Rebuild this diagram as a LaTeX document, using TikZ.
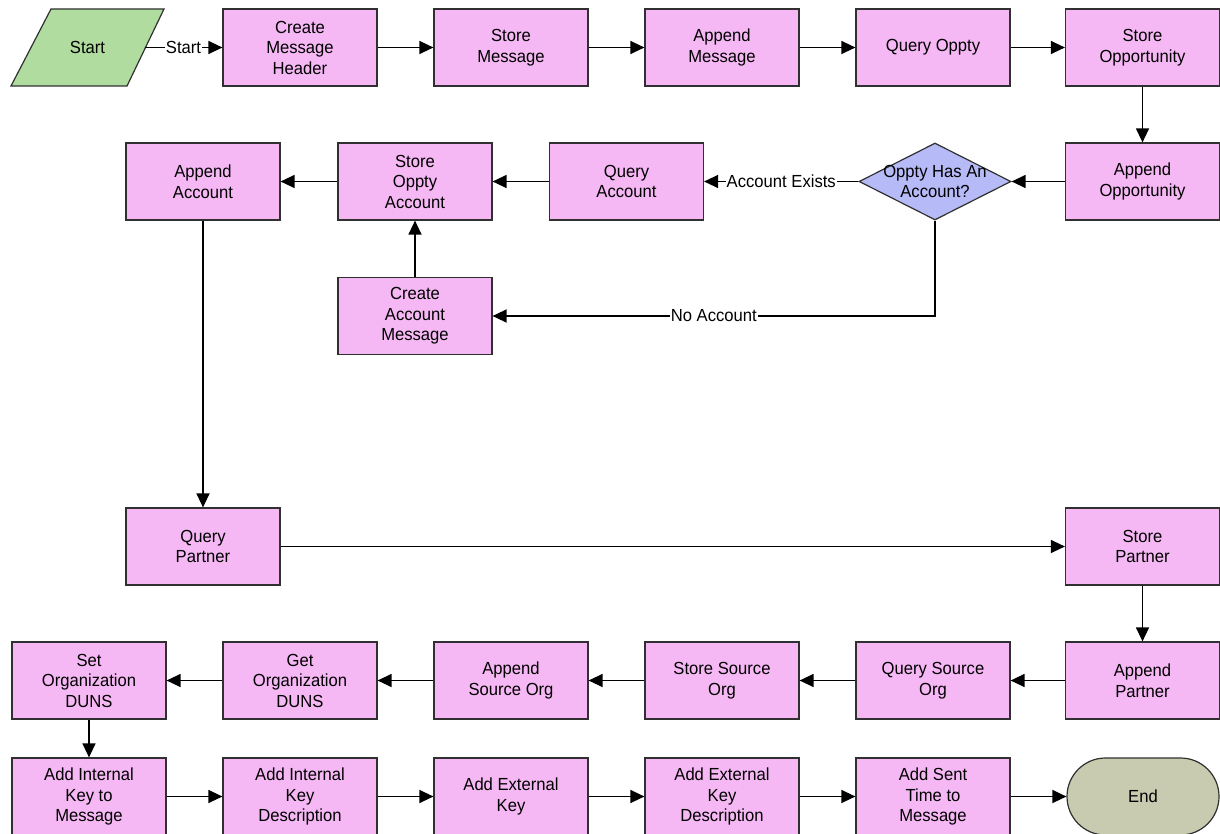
\documentclass[tikz,border=0pt]{standalone}
\usepackage{fontspec}
\setmainfont{Liberation Sans}[FakeStretch=0.95]
\usetikzlibrary{arrows.meta,shapes.geometric,shapes.misc}
\definecolor{boxfill}{HTML}{F6B8F4}
\definecolor{boxline}{HTML}{303030}
\definecolor{startfill}{HTML}{B0DCA0}
\definecolor{decfill}{HTML}{B6BAF6}
\definecolor{endfill}{HTML}{C9CBB0}
\begin{document}
\begin{tikzpicture}[x=1pt,y=-1pt,
  txt/.style={font=\fontsize{17.5pt}{20.5pt}\selectfont, align=center},
  box/.style={txt, draw=boxline, fill=boxfill, line width=1.2pt, minimum width=154pt, minimum height=77pt, inner sep=0pt},
  arr/.style={-{Triangle[length=14pt,width=13pt]}, line width=1.3pt},
  lbl/.style={txt, fill=white, inner sep=1pt}]
\useasboundingbox (0,0) rectangle (1220,834);
\fill[white] (0,0) rectangle (1220,834);
% start
\draw[boxline, fill=startfill, line width=1.2pt] (11,86) -- (51,9) -- (164,9) -- (127,86) -- cycle;
\node[txt, minimum width=114pt, minimum height=77pt, inner sep=0pt] (start) at (87.5,47.5) {Start};
% row 1
\node[box] (cmh) at (300,47.5) {Create\\Message\\Header};
\node[box] (sm)  at (511,47.5) {Store\\Message};
\node[box] (am)  at (722,47.5) {Append\\Message};
\node[box] (qo)  at (933,47.5) {Query Oppty};
\node[box] (so)  at (1142.5,47.5) {Store\\Opportunity};
% row 2
\node[box] (ao)  at (1142.5,181.5) {Append\\Opportunity};
\node[diamond, draw=boxline, fill=decfill, line width=1.2pt, minimum width=152pt, minimum height=77pt, inner sep=0pt] (dec) at (935,181.5) {};
\node[txt] (dect) at (dec.center) {Oppty Has An\\Account?};
\node[box] (qa)  at (626.5,181.5) {Query\\Account};
\node[box] (soa) at (415,181.5) {Store\\Oppty\\Account};
\node[box] (aa)  at (203,181.5) {Append\\Account};
\node[box] (cam) at (415,316) {Create\\Account\\Message};
% row 3
\node[box] (qp)  at (203,546.5) {Query\\Partner};
\node[box] (sp)  at (1142.5,546.5) {Store\\Partner};
% row 4
\node[box] (ap)  at (1142.5,680.5) {Append\\Partner};
\node[box] (qso) at (933,680.5) {Query Source\\Org};
\node[box] (sso) at (722,680.5) {Store Source\\Org};
\node[box] (aso) at (511,680.5) {Append\\Source Org};
\node[box] (god) at (300,680.5) {Get\\Organization\\DUNS};
\node[box] (sod) at (89,680.5) {Set\\Organization\\DUNS};
% row 5
\node[box] (aik) at (89,796.5) {Add Internal\\Key to\\Message};
\node[box] (aikd) at (300,796.5) {Add Internal\\Key\\Description};
\node[box] (aek) at (511,796.5) {Add External\\Key};
\node[box] (aekd) at (722,796.5) {Add External\\Key\\Description};
\node[box] (ast) at (933,796.5) {Add Sent\\Time to\\Message};
\node[txt, rounded rectangle, draw=boxline, fill=endfill, line width=1.2pt, minimum width=152pt, minimum height=77pt, inner sep=0pt] (end) at (1143,796.5) {End};
% connectors
\draw[arr] (start.east) -- node[lbl] {Start} (cmh.west);
\draw[arr] (cmh) -- (sm);
\draw[arr] (sm) -- (am);
\draw[arr] (am) -- (qo);
\draw[arr] (qo) -- (so);
\draw[arr] (so) -- (ao);
\draw[arr] (ao) -- (dec);
\draw[arr] (dec.west) -- node[lbl] {Account Exists} (qa.east);
\draw[arr] (dec.south) |- node[lbl, pos=0.75] {No Account} (cam.east);
\draw[arr] (qa) -- (soa);
\draw[arr] (cam) -- (soa);
\draw[arr] (soa) -- (aa);
\draw[arr] (aa) -- (qp);
\draw[arr] (qp) -- (sp);
\draw[arr] (sp) -- (ap);
\draw[arr] (ap) -- (qso);
\draw[arr] (qso) -- (sso);
\draw[arr] (sso) -- (aso);
\draw[arr] (aso) -- (god);
\draw[arr] (god) -- (sod);
\draw[arr] (sod) -- (aik);
\draw[arr] (aik) -- (aikd);
\draw[arr] (aikd) -- (aek);
\draw[arr] (aek) -- (aekd);
\draw[arr] (aekd) -- (ast);
\draw[arr] (ast) -- (end);
\end{tikzpicture}
\end{document}
